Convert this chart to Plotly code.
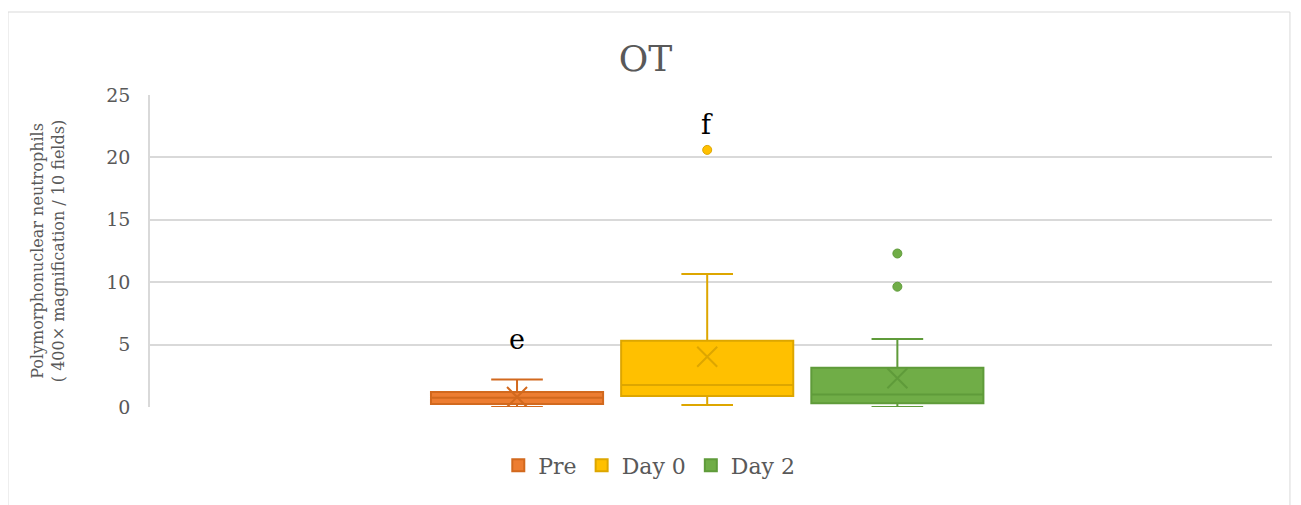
import plotly.graph_objects as go

# ---- data ----
series = ["Pre", "Day 0", "Day 2"]
q1 = [0.24, 0.88, 0.30]
median = [0.75, 1.76, 1.00]
q3 = [1.20, 5.30, 3.15]
lowerfence = [0.0, 0.16, 0.0]
upperfence = [2.20, 10.66, 5.45]
means = [0.80, 4.03, 2.30]
outliers = [[], [20.6], [12.3, 9.64]]
letters = ["e", "f", ""]
letter_y = [5.4, 22.6, None]

fills = ["#ED7D31", "#FFC000", "#70AD47"]
lines = ["#D2691E", "#DDA600", "#5F9B3A"]

FONT = "DejaVu Serif"
GREY = "#595959"

fig = go.Figure()
for i, name in enumerate(series):
    fig.add_trace(go.Box(
        name=name, x=[i], q1=[q1[i]], median=[median[i]], q3=[q3[i]],
        lowerfence=[lowerfence[i]], upperfence=[upperfence[i]],
        width=0.905, whiskerwidth=0.3, fillcolor=fills[i],
        line=dict(color=lines[i], width=2), boxpoints=False,
        hoverinfo="skip"))
    fig.add_trace(go.Scatter(
        x=[i], y=[means[i]], mode="markers", showlegend=False,
        marker=dict(symbol="x-thin-open", size=20, color=lines[i],
                    line=dict(color=lines[i], width=2)),
        hoverinfo="skip"))
    if outliers[i]:
        fig.add_trace(go.Scatter(
            x=[i] * len(outliers[i]), y=outliers[i], mode="markers",
            showlegend=False,
            marker=dict(symbol="circle", size=9, color=fills[i],
                        line=dict(color=lines[i], width=1)),
            hoverinfo="skip"))
    if letters[i]:
        fig.add_annotation(x=i, y=letter_y[i], text=letters[i], showarrow=False,
                           xref="x", yref="y",
                           font=dict(family=FONT, size=27, color="#000000"))

fig.add_shape(type="rect", xref="paper", yref="paper",
              x0=-0.1266, x1=1.016, y0=-0.36, y1=1.266,
              line=dict(color="#D9D9D9", width=1), layer="below")

fig.update_layout(
    width=1301, height=505,
    margin=dict(l=142, r=37, t=87, b=106),
    paper_bgcolor="white", plot_bgcolor="white",
    title=dict(text="OT", x=0.49, xref="container", xanchor="center",
               y=0.9, yref="container", yanchor="middle",
               font=dict(family=FONT, size=36, color=GREY)),
    xaxis=dict(range=[-1.93, 3.97], showticklabels=False, showgrid=False,
               zeroline=False, showline=False, ticks=""),
    yaxis=dict(range=[0, 25], dtick=5, showgrid=True, gridcolor="#D9D9D9",
               gridwidth=1.5, zeroline=False, showline=True,
               linecolor="#D9D9D9", linewidth=1.5,
               ticks="outside", ticklen=0, ticklabelstandoff=14,
               tickfont=dict(family=FONT, size=19, color=GREY),
               title=dict(text="Polymorphonuclear neutrophils<br>( 400\u00d7 magnification / 10 fields)",
                          font=dict(family=FONT, size=16, color=GREY),
                          standoff=38)),
    legend=dict(orientation="h", x=0.445, xanchor="center", y=-0.12, yanchor="top",
                font=dict(family=FONT, size=22, color=GREY),
                itemwidth=30, traceorder="normal"),
    showlegend=True,
)

fig.write_html("out.html")
